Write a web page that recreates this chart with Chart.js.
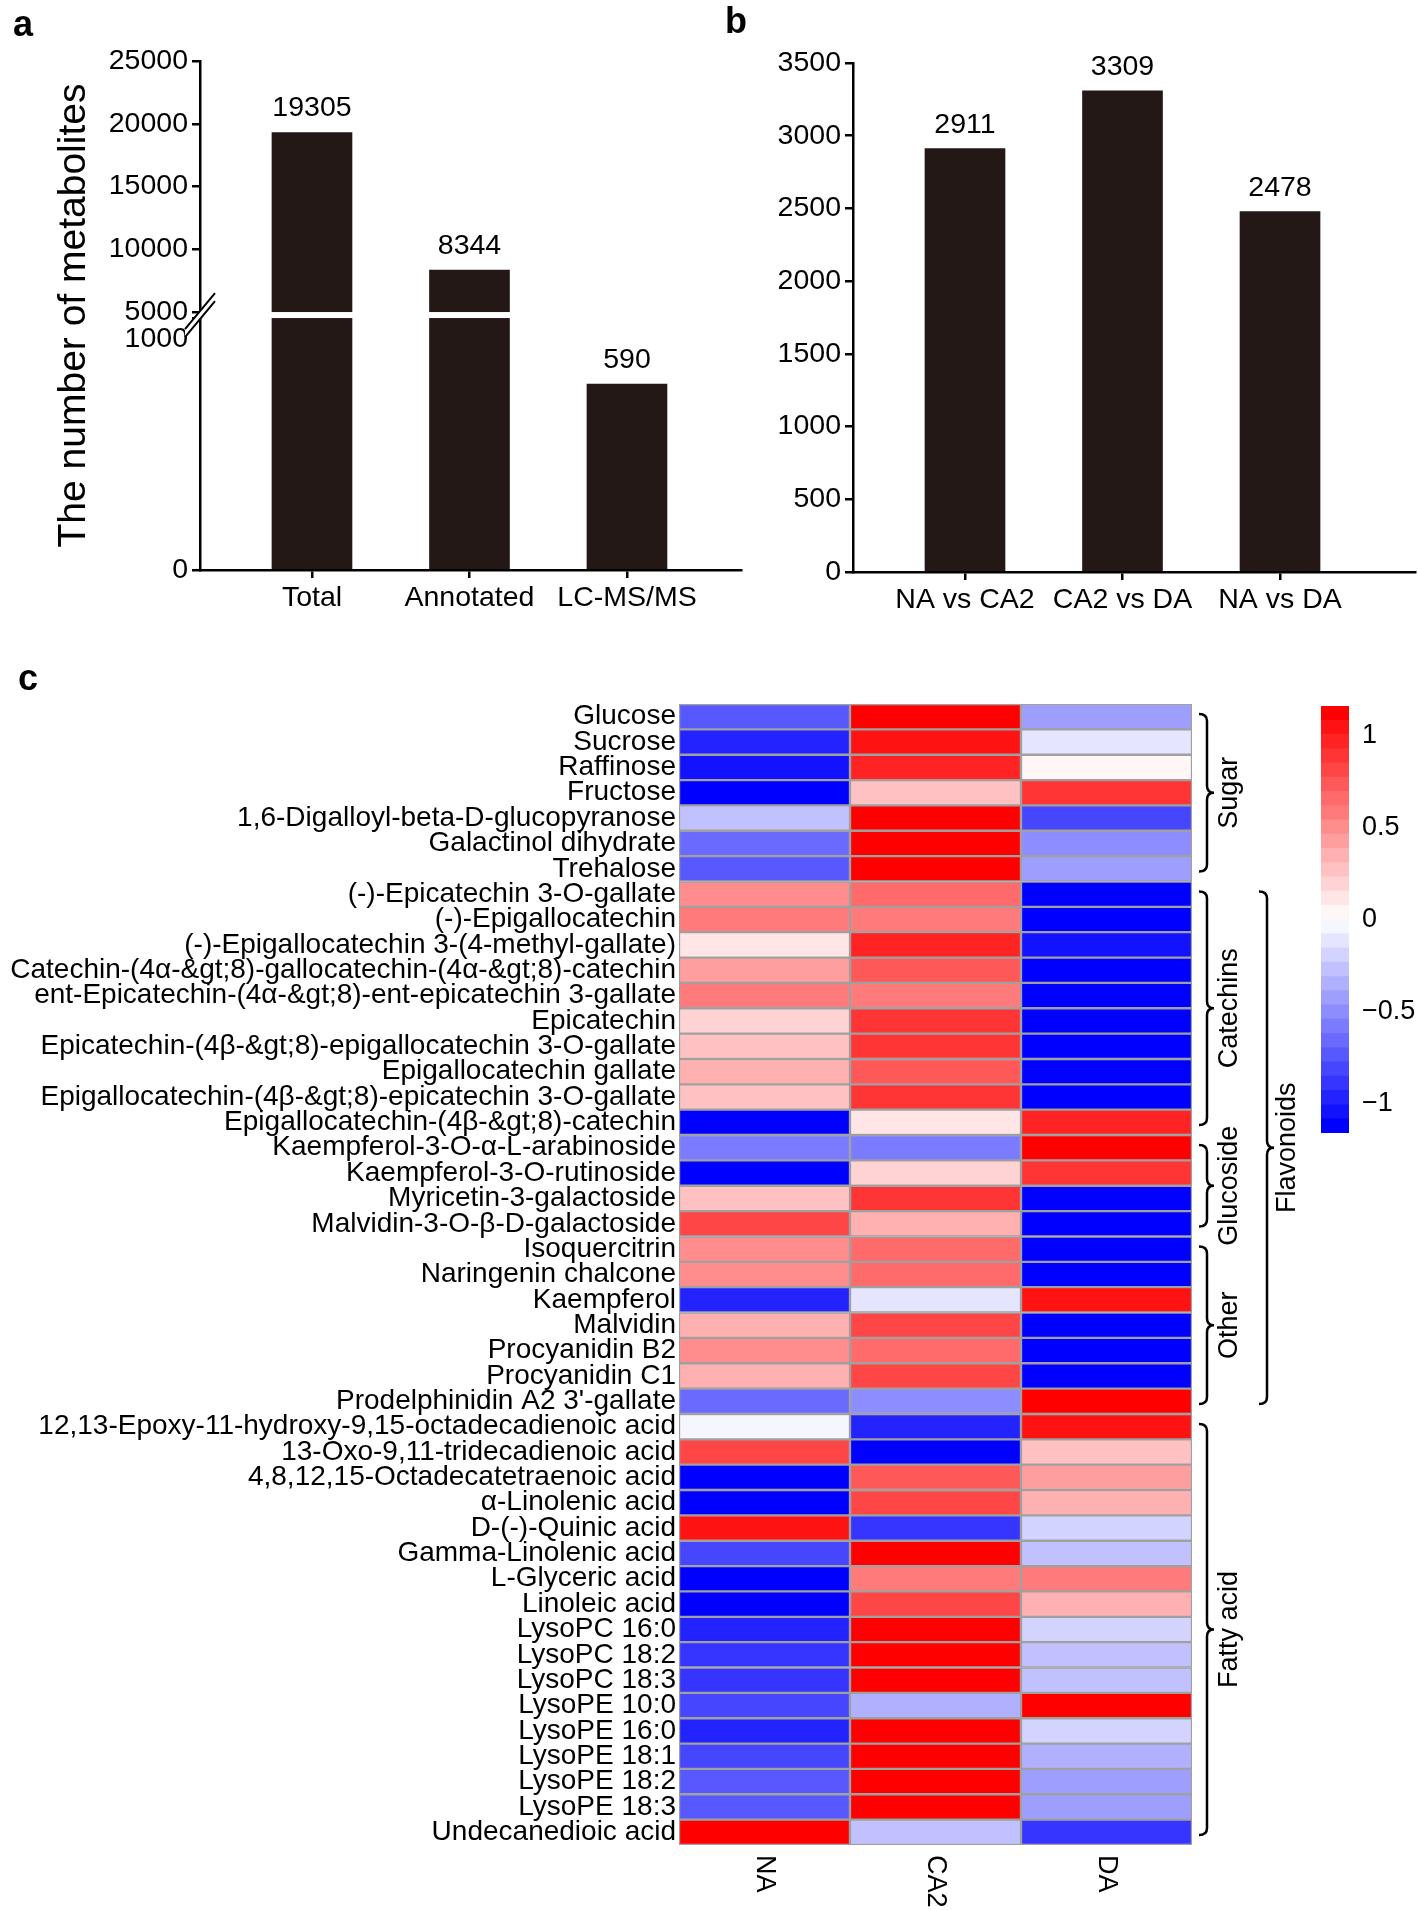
<!DOCTYPE html>
<html>
<head>
<meta charset="utf-8">
<title>Metabolite counts and heatmap</title>
<script src="https://cdn.jsdelivr.net/npm/chart.js@4.4.1/dist/chart.umd.min.js"></script>
<style>
  html, body { margin: 0; padding: 0; background: #fff; }
  #page { position: relative; width: 1418px; height: 1910px; overflow: hidden; background: #fff; }
  canvas { position: absolute; }
</style>
</head>
<body>
<div id="page">
  <canvas id="chartA" width="745" height="640" style="left:0px;top:0px"></canvas>
  <canvas id="chartB" width="718" height="640" style="left:700px;top:0px"></canvas>
  <canvas id="chartC" width="1418" height="1270" style="left:0px;top:640px"></canvas>
  <canvas id="chartLegend" width="118" height="460" style="left:1300px;top:690px"></canvas>
</div>
<script>
  // ---- panel a ----
  const A_CATEGORIES = ["Total", "Annotated", "LC-MS/MS"];
  const A_VALUES = [19305, 8344, 590];
  const A_TICKS = [0, 1000, 5000, 10000, 15000, 20000, 25000];
  const A_TICK_LABELS = ["0", "1000", "5000", "10000", "15000", "20000", "25000"];
  const A_LOWER_MAX = 800;     // top of the lower axis segment
  const A_UPPER_MIN = 5000;    // bottom of the upper axis segment

  // ---- panel b ----
  const B_CATEGORIES = ["NA vs CA2", "CA2 vs DA", "NA vs DA"];
  const B_VALUES = [2911, 3309, 2478];

  // ---- panel c ----
  const SAMPLES = ["NA", "CA2", "DA"];
  const METABOLITES = [
    "Glucose", "Sucrose", "Raffinose", "Fructose",
    "1,6-Digalloyl-beta-D-glucopyranose", "Galactinol dihydrate", "Trehalose",
    "(-)-Epicatechin 3-O-gallate", "(-)-Epigallocatechin",
    "(-)-Epigallocatechin 3-(4-methyl-gallate)",
    "Catechin-(4α-&gt;8)-gallocatechin-(4α-&gt;8)-catechin",
    "ent-Epicatechin-(4α-&gt;8)-ent-epicatechin 3-gallate",
    "Epicatechin",
    "Epicatechin-(4β-&gt;8)-epigallocatechin 3-O-gallate",
    "Epigallocatechin gallate",
    "Epigallocatechin-(4β-&gt;8)-epicatechin 3-O-gallate",
    "Epigallocatechin-(4β-&gt;8)-catechin",
    "Kaempferol-3-O-α-L-arabinoside", "Kaempferol-3-O-rutinoside",
    "Myricetin-3-galactoside", "Malvidin-3-O-β-D-galactoside",
    "Isoquercitrin", "Naringenin chalcone", "Kaempferol", "Malvidin",
    "Procyanidin B2", "Procyanidin C1", "Prodelphinidin A2 3'-gallate",
    "12,13-Epoxy-11-hydroxy-9,15-octadecadienoic acid",
    "13-Oxo-9,11-tridecadienoic acid", "4,8,12,15-Octadecatetraenoic acid",
    "α-Linolenic acid", "D-(-)-Quinic acid", "Gamma-Linolenic acid",
    "L-Glyceric acid", "Linoleic acid", "LysoPC 16:0", "LysoPC 18:2",
    "LysoPC 18:3", "LysoPE 10:0", "LysoPE 16:0", "LysoPE 18:1",
    "LysoPE 18:2", "LysoPE 18:3", "Undecanedioic acid"
  ];
  const NA_VALUES = [
    -0.70, -0.95, -1.03, -1.13, -0.29, -0.65, -0.70,
    0.50, 0.59, 0.10, 0.40, 0.59, 0.18, 0.28, 0.38, 0.27, -1.12,
    -0.57, -1.12, 0.25, 0.78,
    0.50, 0.50, -0.96, 0.37, 0.47, 0.37, -0.64,
    -0.03, 0.85, -1.15, -1.15, 1.07, -0.85, -1.15, -1.15, -0.95, -0.86,
    -0.90, -0.81, -0.95, -0.78, -0.72, -0.70, 1.15
  ];
  const CA2_VALUES = [
    1.15, 1.07, 0.97, 0.27, 1.12, 1.15, 1.14,
    0.65, 0.56, 0.95, 0.75, 0.56, 0.92, 0.87, 0.77, 0.88, 0.15,
    -0.58, 0.21, 0.90, 0.37,
    0.65, 0.65, -0.12, 0.78, 0.68, 0.78, -0.51,
    -0.98, -1.15, 0.75, 0.78, -0.91, 1.14, 0.57, 0.78, 1.15, 1.15,
    1.15, -0.34, 1.15, 1.15, 1.15, 1.15, -0.29
  ];
  const DA_VALUES = [
    -0.45, -0.12, 0.06, 0.86, -0.83, -0.50, -0.44,
    -1.15, -1.15, -1.05, -1.15, -1.15, -1.10, -1.15, -1.15, -1.15, 0.97,
    1.15, 0.91, -1.15, -1.15,
    -1.15, -1.15, 1.08, -1.15, -1.15, -1.15, 1.15,
    1.06, 0.30, 0.40, 0.37, -0.16, -0.29, 0.58, 0.37, -0.20, -0.29,
    -0.25, 1.15, -0.20, -0.37, -0.43, -0.45, -0.86
  ];
  const GROUP_NAMES = ["Sugar", "Catechins", "Glucoside", "Other", "Fatty acid"];
  const GROUP_FIRST = [0, 7, 17, 21, 28];
  const GROUP_LAST = [6, 16, 20, 27, 44];
  const OUTER_NAMES = ["Flavonoids"];
  const OUTER_FIRST = [7];
  const OUTER_LAST = [27];

  const LEGEND_TICKS = [-1, -0.5, 0, 0.5, 1];
  const LEGEND_LABELS = ["\u22121", "\u22120.5", "0", "0.5", "1"];
  const LIMIT = 1.16;
  const N_BINS = 30;

  const FONT = "'Liberation Sans', Arial, sans-serif";
  const BAR_FONT_SIZE = 28.5;
  const BAR_COLOR = "#231815";
  const CELL_BORDER = "#a0a0a0";

  Chart.defaults.font.family = FONT;
  Chart.defaults.color = "#000";
  Chart.defaults.animation = false;

  function binColor(k) {
    const t = k / (N_BINS - 1);
    if (t < 0.5) {
      const f = Math.round(255 * t / 0.5);
      return "rgb(" + f + "," + f + ",255)";
    }
    const f = Math.round(255 * (1 - t) / 0.5);
    return "rgb(255," + f + "," + f + ")";
  }

  function colorFor(v) {
    let k = Math.floor((v + LIMIT) / (2 * LIMIT) * N_BINS);
    k = Math.max(0, Math.min(N_BINS - 1, k));
    return binColor(k);
  }

  // linear axis with a break between A_LOWER_MAX and A_UPPER_MIN
  class BrokenLinearScale extends Chart.LinearScale {
    buildTicks() {
      return A_TICKS.map((v) => ({ value: v }));
    }
    segments() {
      const h = this.bottom - this.top;
      const lowH = h * 0.495;
      const gapH = h * 0.0118;
      return { lowH: lowH, gapH: gapH, upH: h - lowH - gapH };
    }
    getPixelForValue(value) {
      const s = this.segments();
      if (value <= A_LOWER_MAX) return this.bottom - (value / A_LOWER_MAX) * s.lowH;
      if (value < A_UPPER_MIN) {
        return this.bottom - s.lowH - ((value - A_LOWER_MAX) / (A_UPPER_MIN - A_LOWER_MAX)) * s.gapH;
      }
      return this.bottom - s.lowH - s.gapH - ((value - A_UPPER_MIN) / (this.max - A_UPPER_MIN)) * s.upH;
    }
    getValueForPixel(pixel) {
      const s = this.segments();
      const d = this.bottom - pixel;
      if (d <= s.lowH) return (d / s.lowH) * A_LOWER_MAX;
      if (d <= s.lowH + s.gapH) return A_LOWER_MAX + ((d - s.lowH) / s.gapH) * (A_UPPER_MIN - A_LOWER_MAX);
      return A_UPPER_MIN + ((d - s.lowH - s.gapH) / s.upH) * (this.max - A_UPPER_MIN);
    }
  }
  BrokenLinearScale.id = "brokenLinear";
  BrokenLinearScale.defaults = {};
  Chart.register(BrokenLinearScale);

  function axisGrid() {
    return { display: true, drawOnChartArea: false, drawTicks: true, tickLength: 8, color: "#000", lineWidth: 2.5, offset: false };
  }
  function axisBorder() {
    return { display: true, color: "#000", width: 2.5 };
  }

  function drawValueLabels(chart) {
    const ctx = chart.ctx;
    const meta = chart.getDatasetMeta(0);
    const data = chart.data.datasets[0].data;
    ctx.save();
    ctx.font = BAR_FONT_SIZE + "px " + FONT;
    ctx.fillStyle = "#000";
    ctx.textAlign = "center";
    ctx.textBaseline = "alphabetic";
    meta.data.forEach((bar, i) => {
      ctx.fillText(String(data[i].y), bar.x, bar.y - 16);
    });
    ctx.restore();
  }

  function drawLetter(chart, letter, x, y) {
    const ctx = chart.ctx;
    ctx.save();
    ctx.font = "bold 36px " + FONT;
    ctx.fillStyle = "#000";
    ctx.textAlign = "left";
    ctx.textBaseline = "alphabetic";
    ctx.fillText(letter, x, y);
    ctx.restore();
  }

  const panelAExtras = {
    id: "panelAExtras",
    afterDatasetsDraw(chart) {
      const ctx = chart.ctx;
      const y = chart.scales.y;
      const area = chart.chartArea;
      const yTop = y.getPixelForValue(A_UPPER_MIN);
      const yBot = y.getPixelForValue(A_LOWER_MAX);
      ctx.save();
      ctx.fillStyle = "#fff";
      ctx.fillRect(area.left + 3, yTop, area.right - area.left - 3, yBot - yTop);
      ctx.restore();
    },
    afterDraw(chart) {
      const ctx = chart.ctx;
      const y = chart.scales.y;
      const area = chart.chartArea;
      // y tick labels, shifted apart around the break
      ctx.save();
      ctx.font = BAR_FONT_SIZE + "px " + FONT;
      ctx.fillStyle = "#000";
      ctx.textAlign = "right";
      ctx.textBaseline = "middle";
      A_TICKS.forEach((v, i) => {
        let py = y.getPixelForValue(v);
        if (v === 1000) py += 21;
        ctx.fillText(A_TICK_LABELS[i], area.left - 12, py);
      });
      ctx.restore();
      // break mark on the axis
      const cx = area.left;
      const cy = (y.getPixelForValue(A_UPPER_MIN) + y.getPixelForValue(A_LOWER_MAX)) / 2;
      const dx = 15, dy = 18, off = 4;
      ctx.save();
      ctx.fillStyle = "#fff";
      ctx.beginPath();
      ctx.moveTo(cx - dx, cy + dy - off);
      ctx.lineTo(cx + dx, cy - dy - off);
      ctx.lineTo(cx + dx, cy - dy + off);
      ctx.lineTo(cx - dx, cy + dy + off);
      ctx.closePath();
      ctx.fill();
      ctx.strokeStyle = "#000";
      ctx.lineWidth = 2;
      ctx.beginPath();
      ctx.moveTo(cx - dx, cy + dy - off);
      ctx.lineTo(cx + dx, cy - dy - off);
      ctx.moveTo(cx - dx, cy + dy + off);
      ctx.lineTo(cx + dx, cy - dy + off);
      ctx.stroke();
      ctx.restore();
      drawValueLabels(chart);
      drawLetter(chart, "a", 13, 36);
    }
  };

  new Chart(document.getElementById("chartA"), {
    type: "bar",
    data: {
      datasets: [{
        data: A_VALUES.map((v, i) => ({ x: i + 1, y: v })),
        backgroundColor: BAR_COLOR,
        barThickness: 80
      }]
    },
    options: {
      responsive: false,
      layout: { padding: { top: 61, right: 4, left: 0, bottom: 0 } },
      plugins: { legend: { display: false }, tooltip: { enabled: false } },
      scales: {
        x: {
          type: "linear",
          min: 0.289,
          max: 3.724,
          offset: false,
          afterBuildTicks: (s) => { s.ticks = A_CATEGORIES.map((_, i) => ({ value: i + 1 })); },
          ticks: { callback: (v) => A_CATEGORIES[v - 1], font: { size: BAR_FONT_SIZE }, padding: 3, maxRotation: 0 },
          grid: axisGrid(),
          border: axisBorder(),
          afterFit: (s) => { s.height = 70; }
        },
        y: {
          type: "brokenLinear",
          min: 0,
          max: 25000,
          ticks: { display: false },
          grid: axisGrid(),
          border: axisBorder(),
          title: {
            display: true,
            text: "The number of metabolites",
            font: { size: 39 },
            padding: { top: 51, bottom: 0 }
          },
          afterFit: (s) => { s.width = 200; }
        }
      }
    },
    plugins: [panelAExtras]
  });

  new Chart(document.getElementById("chartB"), {
    type: "bar",
    data: {
      datasets: [{
        data: B_VALUES.map((v, i) => ({ x: i + 1, y: v })),
        backgroundColor: BAR_COLOR,
        barThickness: 80
      }]
    },
    options: {
      responsive: false,
      layout: { padding: { top: 63, right: 3, left: 0, bottom: 0 } },
      plugins: { legend: { display: false }, tooltip: { enabled: false } },
      scales: {
        x: {
          type: "linear",
          min: 0.289,
          max: 3.857,
          offset: false,
          afterBuildTicks: (s) => { s.ticks = B_CATEGORIES.map((_, i) => ({ value: i + 1 })); },
          ticks: { callback: (v) => B_CATEGORIES[v - 1], font: { size: BAR_FONT_SIZE }, padding: 3, maxRotation: 0 },
          grid: axisGrid(),
          border: axisBorder(),
          afterFit: (s) => { s.height = 68; }
        },
        y: {
          min: 0,
          max: 3500,
          ticks: { stepSize: 500, font: { size: BAR_FONT_SIZE }, padding: 4, callback: (v) => String(v) },
          grid: axisGrid(),
          border: axisBorder(),
          afterFit: (s) => { s.width = 153; }
        }
      }
    },
    plugins: [{
      id: "panelBExtras",
      afterDraw(chart) {
        drawValueLabels(chart);
        drawLetter(chart, "b", 25, 33);
      }
    }]
  });

  function drawBrace(ctx, xl, xm, xr, y1, y2) {
    const ym = (y1 + y2) / 2;
    const r = 7;
    ctx.beginPath();
    ctx.moveTo(xl, y1);
    ctx.quadraticCurveTo(xm, y1, xm, y1 + r);
    ctx.lineTo(xm, ym - r);
    ctx.quadraticCurveTo(xm, ym, xr, ym);
    ctx.quadraticCurveTo(xm, ym, xm, ym + r);
    ctx.lineTo(xm, y2 - r);
    ctx.quadraticCurveTo(xm, y2, xl, y2);
    ctx.stroke();
  }

  function drawRotated(ctx, text, x, y, angle, align) {
    ctx.save();
    ctx.translate(x, y);
    ctx.rotate(angle);
    ctx.textAlign = align;
    ctx.textBaseline = "middle";
    ctx.fillText(text, 0, 0);
    ctx.restore();
  }

  const heatmapExtras = {
    id: "heatmapExtras",
    afterDraw(chart) {
      const ctx = chart.ctx;
      const xs = chart.scales.x;
      const ys = chart.scales.y;
      const area = chart.chartArea;
      const rowH = (ys.bottom - ys.top) / METABOLITES.length;
      const rowTop = (i) => ys.getPixelForValue(i) - rowH / 2;
      const rowBot = (i) => ys.getPixelForValue(i) + rowH / 2;

      ctx.save();
      ctx.fillStyle = "#000";
      ctx.font = "27px " + FONT;
      SAMPLES.forEach((name, j) => {
        drawRotated(ctx, name, xs.getPixelForValue(j + 0.5), area.bottom + 10, Math.PI / 2, "left");
      });

      ctx.strokeStyle = "#000";
      ctx.lineWidth = 2.5;
      const inset = 10;
      GROUP_NAMES.forEach((name, g) => {
        const y1 = rowTop(GROUP_FIRST[g]) + inset;
        const y2 = rowBot(GROUP_LAST[g]) - inset;
        drawBrace(ctx, area.right + 7, area.right + 15, area.right + 22, y1, y2);
        drawRotated(ctx, name, area.right + 38, (y1 + y2) / 2, -Math.PI / 2, "center");
      });
      OUTER_NAMES.forEach((name, g) => {
        const y1 = rowTop(OUTER_FIRST[g]) + inset;
        const y2 = rowBot(OUTER_LAST[g]) - inset;
        drawBrace(ctx, area.right + 67, area.right + 75, area.right + 82, y1, y2);
        drawRotated(ctx, name, area.right + 96, (y1 + y2) / 2, -Math.PI / 2, "center");
      });
      ctx.restore();
      drawLetter(chart, "c", 18, 50);
    }
  };

  const SAMPLE_VALUES = [NA_VALUES, CA2_VALUES, DA_VALUES];

  new Chart(document.getElementById("chartC"), {
    type: "bar",
    data: {
      labels: METABOLITES,
      datasets: SAMPLES.map((name, j) => ({
        label: name,
        data: METABOLITES.map(() => 1),
        backgroundColor: SAMPLE_VALUES[j].map(colorFor),
        borderColor: CELL_BORDER,
        borderWidth: 1.5,
        borderSkipped: false,
        barPercentage: 1,
        categoryPercentage: 1
      }))
    },
    options: {
      indexAxis: "y",
      responsive: false,
      layout: { padding: { top: 64, bottom: 65, left: 0, right: 226 } },
      plugins: { legend: { display: false }, tooltip: { enabled: false } },
      scales: {
        x: { type: "linear", stacked: true, min: 0, max: 3, display: false },
        y: {
          type: "category",
          stacked: true,
          grid: { display: false, drawTicks: false },
          border: { display: false },
          ticks: { autoSkip: false, padding: 3, font: { size: 28 }, color: "#000" },
          afterFit: (s) => { s.width = 679; s.paddingTop = 0; s.paddingBottom = 0; }
        }
      }
    },
    plugins: [heatmapExtras]
  });

  const binEdges = [];
  for (let k = 0; k <= N_BINS; k++) binEdges.push(-LIMIT + (2 * LIMIT * k) / N_BINS);

  new Chart(document.getElementById("chartLegend"), {
    type: "bar",
    data: {
      labels: [""],
      datasets: binEdges.slice(0, N_BINS).map((lo, k) => ({
        data: [[lo, binEdges[k + 1]]],
        backgroundColor: binColor(k),
        grouped: false,
        barPercentage: 1,
        categoryPercentage: 1
      }))
    },
    options: {
      responsive: false,
      layout: { padding: { top: 16, bottom: 17, left: 21, right: 0 } },
      plugins: { legend: { display: false }, tooltip: { enabled: false } },
      scales: {
        x: { display: false },
        y: {
          position: "right",
          min: -LIMIT,
          max: LIMIT,
          afterBuildTicks: (s) => { s.ticks = LEGEND_TICKS.map((v) => ({ value: v })); },
          ticks: {
            callback: (v) => LEGEND_LABELS[LEGEND_TICKS.indexOf(v)],
            font: { size: 27 },
            padding: 13
          },
          grid: { display: false, drawTicks: false },
          border: { display: false },
          afterFit: (s) => { s.width = 69; s.paddingTop = 0; s.paddingBottom = 0; }
        }
      }
    }
  });
</script>
</body>
</html>
